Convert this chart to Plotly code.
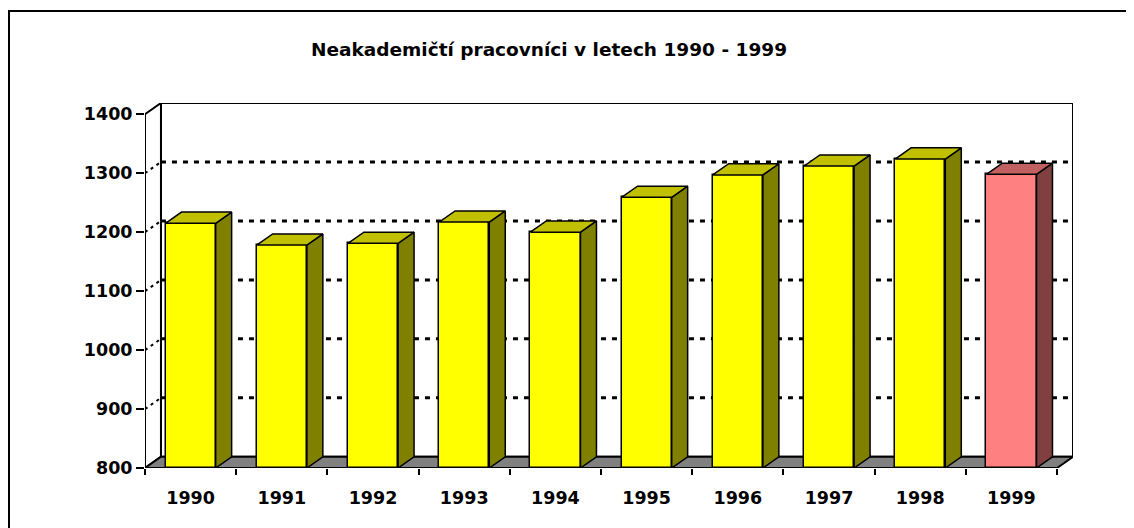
import plotly.graph_objects as go

# data
years = ["1990", "1991", "1992", "1993", "1994", "1995", "1996", "1997", "1998", "1999"]
values = [1215, 1178, 1181, 1217, 1200, 1259, 1297, 1312, 1324, 1298]
y_ticks = [800, 900, 1000, 1100, 1200, 1300, 1400]

# 3D look (axis units)
BASE = 800
TOP = 1400
DX = 0.175   # depth offset along x (categories)
DY = 19      # depth offset along y (value units)
BAR_W = 0.55

front_col = ["#FFFF00"] * 9 + ["#FF8080"]
side_col = ["#808000"] * 9 + ["#804040"]
top_col = ["#C0C000"] * 9 + ["#C06060"]

n = len(years)
xs = list(range(n))
x_lo, x_hi = -0.5, n - 0.5

W, H = 1126, 520
ML, MR, MT, MB = 137, 61, 95, 60
PW, PH = W - ML - MR, H - MT - MB

fig = go.Figure()

shapes = []
# back wall
shapes.append(dict(type="rect", xref="x", yref="y", layer="below",
                   x0=x_lo + DX, x1=x_hi + DX, y0=BASE + DY, y1=TOP + DY,
                   fillcolor="white", line=dict(color="black", width=2)))
# side wall
shapes.append(dict(type="path", xref="x", yref="y", layer="below",
                   path=f"M {x_lo},{BASE} L {x_lo},{TOP} L {x_lo + DX},{TOP + DY} "
                        f"L {x_lo + DX},{BASE + DY} Z",
                   fillcolor="white", line=dict(color="black", width=2)))
# gridlines on back wall and side wall
for v in y_ticks[1:-1]:
    shapes.append(dict(type="line", xref="x", yref="y", layer="below",
                       x0=x_lo + DX, x1=x_hi + DX, y0=v + DY, y1=v + DY,
                       line=dict(color="black", width=3, dash="5px,6px")))
    shapes.append(dict(type="line", xref="x", yref="y", layer="below",
                       x0=x_lo, x1=x_lo + DX, y0=v, y1=v + DY,
                       line=dict(color="black", width=2, dash="3px,4px")))
# floor
shapes.append(dict(type="path", xref="x", yref="y", layer="below",
                   path=f"M {x_lo},{BASE} L {x_hi},{BASE} L {x_hi + DX},{BASE + DY} "
                        f"L {x_lo + DX},{BASE + DY} Z",
                   fillcolor="#808080", line=dict(color="black", width=2)))
# outer chart border (runs off the right and bottom edges)
shapes.append(dict(type="rect", xref="paper", yref="paper",
                   x0=(1 - ML) / PW, x1=(W + 20 - ML) / PW,
                   y0=(PH + MT - H - 20) / PH, y1=(PH + MT - 3) / PH,
                   line=dict(color="black", width=2)))
# front axis line
shapes.append(dict(type="line", xref="x", yref="y", layer="below",
                   x0=x_lo, x1=x_lo, y0=BASE, y1=TOP,
                   line=dict(color="black", width=2)))

# front faces
fig.add_trace(go.Bar(
    x=xs, y=[v - BASE for v in values], base=BASE, width=BAR_W,
    marker=dict(color=front_col, line=dict(color="black", width=1.5)),
    hovertemplate="%{customdata}: %{y}<extra></extra>",
    customdata=years, showlegend=False,
))

# side and top faces
for i, v in enumerate(values):
    l = xs[i] - BAR_W / 2
    r = xs[i] + BAR_W / 2
    fig.add_trace(go.Scatter(
        x=[r, r, r + DX, r + DX, r], y=[BASE, v, v + DY, BASE + DY, BASE],
        mode="lines", fill="toself", fillcolor=side_col[i],
        line=dict(color="black", width=1.5), hoverinfo="skip", showlegend=False))
    fig.add_trace(go.Scatter(
        x=[l, r, r + DX, l + DX, l], y=[v, v, v + DY, v + DY, v],
        mode="lines", fill="toself", fillcolor=top_col[i],
        line=dict(color="black", width=1.5), hoverinfo="skip", showlegend=False))

# invisible trace so the label axis is drawn
fig.add_trace(go.Scatter(x=xs, y=values, xaxis="x2", mode="markers",
                         marker=dict(opacity=0), hoverinfo="skip", showlegend=False))

tick_font = dict(family="DejaVu Sans", size=17.5, color="black", weight="bold")

fig.update_layout(
    width=W, height=H,
    margin=dict(l=ML, r=MR, t=MT, b=MB),
    paper_bgcolor="white", plot_bgcolor="white",
    title=dict(text="Neakademičtí pracovníci v letech 1990 - 1999",
               x=541 / W, xanchor="center", y=1 - 42 / H, yanchor="middle",
               font=dict(family="DejaVu Sans", size=18.5, color="black",
                         weight="bold")),
    shapes=shapes,
    bargap=0,
    xaxis=dict(range=[x_lo, x_hi + DX], tickvals=[x_lo + k for k in range(n + 1)],
               ticktext=[""] * (n + 1), ticks="outside", ticklen=6, tickwidth=2,
               tickcolor="black", showgrid=False, zeroline=False, showline=False,
               fixedrange=True),
    xaxis2=dict(range=[x_lo, x_hi + DX], overlaying="x", anchor="y", side="bottom",
                tickvals=xs, ticktext=years, ticks="outside", ticklen=14,
                tickcolor="rgba(0,0,0,0)", tickfont=tick_font,
                showgrid=False, zeroline=False, showline=False, fixedrange=True),
    yaxis=dict(range=[BASE, TOP + DY], tickvals=y_ticks, ticks="outside", ticklen=8,
               tickwidth=2, tickcolor="black", tickfont=tick_font,
               showgrid=False, zeroline=False, showline=False, fixedrange=True),
)

fig.write_html("out.html")
